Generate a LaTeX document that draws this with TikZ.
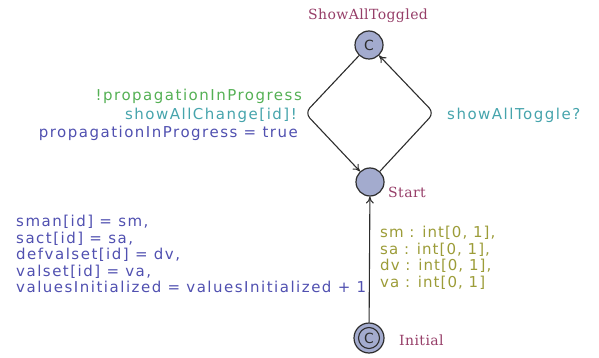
\documentclass[tikz,border=0pt]{standalone}
\usepackage{fontspec}
\setmainfont{DejaVu Sans}[LetterSpace=10]
\newfontfamily\selfont{DejaVu Sans}[LetterSpace=7]
\newfontfamily\locfont{DejaVu Serif}[LetterSpace=3]
\newfontfamily\markfont{DejaVu Sans}
\usetikzlibrary{arrows.meta}
\definecolor{locname}{RGB}{150,62,104}
\definecolor{guardc}{RGB}{84,176,84}
\definecolor{syncc}{RGB}{70,164,172}
\definecolor{updc}{RGB}{80,80,176}
\definecolor{selc}{RGB}{156,156,56}
\definecolor{locfill}{RGB}{163,171,206}
\definecolor{edgec}{RGB}{45,45,45}
\tikzset{
  loc/.style={circle, draw=edgec, fill=locfill, line width=1.2pt, minimum size=28pt, inner sep=0pt,
    text=edgec, font=\markfont\fontsize{14}{14}\selectfont},
  locname/.style={text=locname, inner sep=0pt, font=\locfont\fontsize{14}{14}\selectfont},
  lbl/.style={inner sep=0pt, font=\fontsize{15}{17}\selectfont},
  edge/.style={draw=edgec, line width=1.1pt, -{To[length=7pt,width=8pt]}, rounded corners=7pt}
}
\begin{document}
\begin{tikzpicture}[x=1pt,y=-1pt]
\path[use as bounding box] (0,0) rectangle (599,358);

% locations
\node[loc] (tog) at (369,45) {C};
\node[loc] (start) at (370,182) {};
\node[loc, minimum size=30pt] (init) at (369,338) {C};
\draw[edgec, line width=1.1pt] (init.center) circle (10.5pt);

\node[locname] (togname) at (368,16) {ShowAllToggled};
\node[locname, anchor=west] (startname) at (388,192) {Start};
\node[locname, anchor=west] (initname) at (399,340) {Initial};

% edge corners
\coordinate (lc) at (305,113);
\coordinate (rc) at (434,113);

% edges
\draw[edge] (tog) -- (lc) -- (start);
\draw[edge] (start) -- (rc) -- (tog);
\draw[edge] (init) -- (start);

% labels of the left edge
\node[lbl, anchor=east, text=guardc] (guard) at (302,96) {!propagationInProgress};
\node[lbl, anchor=east, text=syncc] (sync1) at (297,115) {showAllChange[id]!};
\node[lbl, anchor=east, text=updc] (upd1) at (298,133) {propagationInProgress = true};

% label of the right edge
\node[lbl, anchor=west, text=syncc] (sync2) at (447,115) {showAllToggle?};

% labels of the initial edge
\node[lbl, anchor=north west, align=left, text=selc, font=\selfont\fontsize{15}{16.6}\selectfont] (sel) at (380,226)
  {sm : int[0, 1],\\sa : int[0, 1],\\dv : int[0, 1],\\va : int[0, 1]};
\node[lbl, anchor=north west, align=left, text=updc, font=\fontsize{15}{16.6}\selectfont] (upd2) at (16,215)
  {sman[id] = sm,\\sact[id] = sa,\\defvalset[id] = dv,\\valset[id] = va,\\valuesInitialized = valuesInitialized + 1};
\end{tikzpicture}
\end{document}
